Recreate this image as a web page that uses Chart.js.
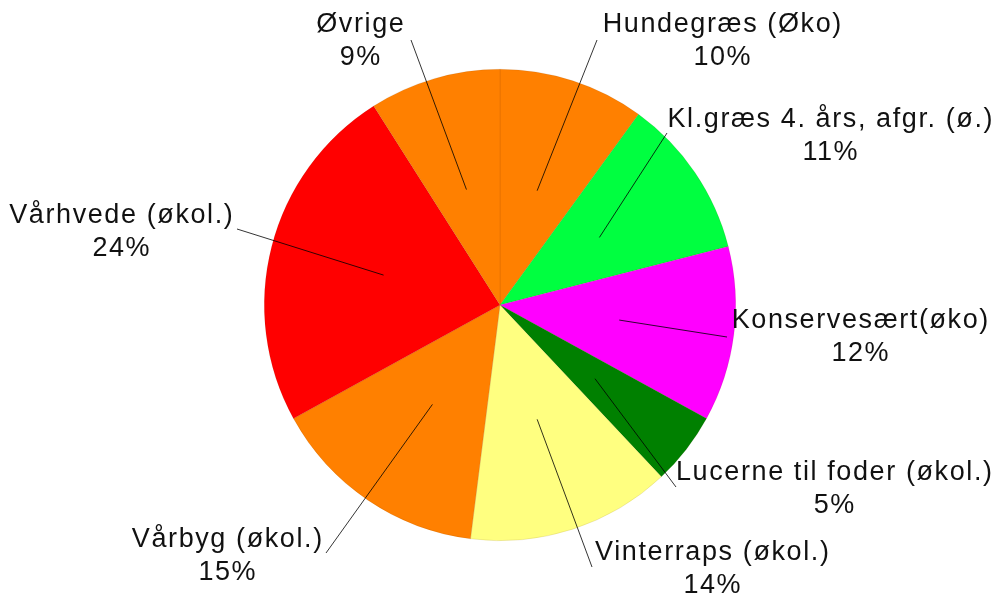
<!DOCTYPE html>
<html>
<head>
<meta charset="utf-8">
<script src="https://cdn.jsdelivr.net/npm/chart.js@4/dist/chart.umd.min.js"></script>
<style>
  html, body { margin: 0; padding: 0; background: #fff; }
  #wrap { width: 993px; height: 595px; position: relative; }
</style>
</head>
<body>
<div id="wrap"><canvas id="pieChart"></canvas></div>
<script>
// --- DATA ---
const crops = [
    'Hundegræs (Øko)',
    'Kl.græs 4. års, afgr. (ø.)',
    'Konservesært(øko)',
    'Lucerne til foder (økol.)',
    'Vinterraps (økol.)',
    'Vårbyg (økol.)',
    'Vårhvede (økol.)',
    'Øvrige'
];
const shares = [10, 11, 12, 5, 14, 15, 24, 9];
const sliceColors = ['#FF8000', '#00FF40', '#FF00FF', '#008000', '#FFFF80', '#FF8000', '#FF0000', '#FF8000'];

// label placement, offsets from the pie centre (px):
// lineEnd = where the leader line stops, text = centre x / baseline of first text line
const labelLayout = [
    { lineEnd: [97, -265],  text: [222, -273] },
    { lineEnd: [167, -172], text: [330, -178] },
    { lineEnd: [227, 32],   text: [360, 23] },
    { lineEnd: [176, 182],  text: [334, 175] },
    { lineEnd: [92, 262],   text: [212, 255] },
    { lineEnd: [-174, 248], text: [-273, 242] },
    { lineEnd: [-263, -76], text: [-379, -82] },
    { lineEnd: [-89, -265], text: [-140, -273] }
];
// --- END DATA ---

// draws the leader lines and the two-line labels
const leaderLabels = {
    id: 'leaderLabels',
    afterDatasetsDraw(chart) {
        const ctx = chart.ctx;
        const arcs = chart.getDatasetMeta(0).data;
        const spacing = 1.6;
        ctx.save();
        arcs.forEach((arc, i) => {
            const cx = arc.x, cy = arc.y;
            const mid = (arc.startAngle + arc.endAngle) / 2;
            const r0 = arc.outerRadius * 0.51;
            const lay = labelLayout[i];

            ctx.beginPath();
            ctx.moveTo(cx + Math.cos(mid) * r0, cy + Math.sin(mid) * r0);
            ctx.lineTo(cx + lay.lineEnd[0], cy + lay.lineEnd[1]);
            ctx.strokeStyle = '#000';
            ctx.lineWidth = 0.8;
            ctx.stroke();

            ctx.fillStyle = '#111';
            ctx.font = '27px "Liberation Sans", Arial, sans-serif';
            ctx.letterSpacing = spacing + 'px';
            ctx.textAlign = 'center';
            ctx.textBaseline = 'alphabetic';
            const tx = cx + lay.text[0] + spacing / 2, ty = cy + lay.text[1];
            ctx.fillText(crops[i], tx, ty);
            ctx.fillText(shares[i] + '%', tx, ty + 33);
        });
        ctx.restore();
    }
};

const pieChart = new Chart(document.getElementById('pieChart'), {
    type: 'pie',
    data: {
        labels: crops,
        datasets: [{
            data: shares,
            backgroundColor: sliceColors,
            borderColor: 'rgba(90,45,0,0.18)',
            borderWidth: 0.6
        }]
    },
    options: {
        responsive: true,
        maintainAspectRatio: false,
        animation: false,
        layout: {
            padding: { left: 264, right: 257, top: 69, bottom: 54 }
        },
        plugins: {
            legend: { display: false },
            tooltip: { enabled: false }
        }
    },
    plugins: [leaderLabels]
});
</script>
</body>
</html>
